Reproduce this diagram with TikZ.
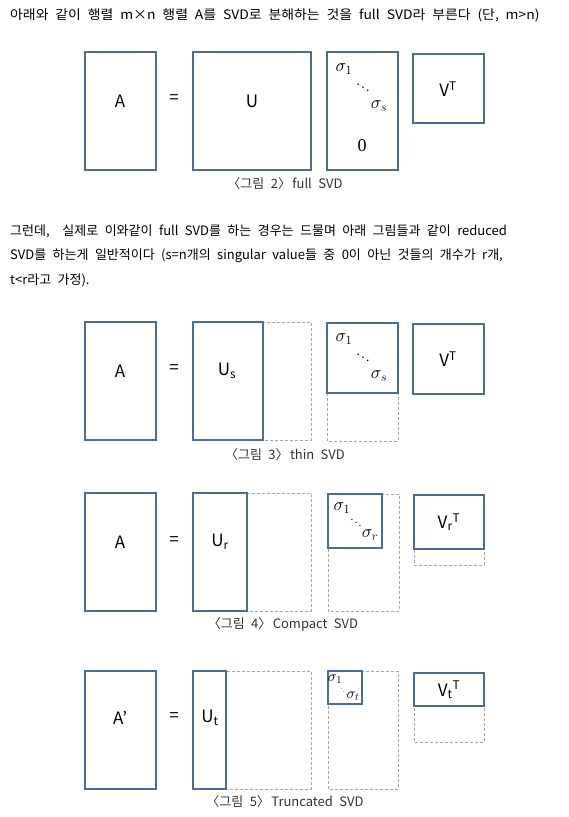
\RequirePackage{fix-cm}
\documentclass[tikz,border=0pt]{standalone}
\usepackage[no-math]{fontspec}
\setmainfont[WordSpace=2.2]{Noto Sans CJK KR}
\newfontfamily\lblfont{Noto Sans CJK KR}
\newfontfamily\zerofont{Liberation Serif}
\usetikzlibrary{calc}
\definecolor{matblue}{HTML}{4A6B9C}
\definecolor{dashgray}{HTML}{A6A6A6}
\tikzset{
    matline/.style={draw=matblue, line width=1.6pt},
    dashline/.style={draw=dashgray, line width=0.9pt, dash pattern=on 3pt off 2pt},
    lbl/.style={font=\lblfont\fontsize{17}{20}\selectfont, inner sep=0pt},
    sig/.style={font=\fontsize{18}{20}\selectfont, inner sep=0pt},
    dotsn/.style={font=\fontsize{12}{14}\selectfont, inner sep=0pt},
    figcap/.style={font=\fontsize{13}{15}\selectfont, text=black!80, inner sep=0pt},
    txt/.style={font=\fontsize{13}{15}\selectfont, anchor=west, inner sep=0pt}
}
\newcommand{\blk}[4]{\draw[matline] ( #1 , #2 ) rectangle ( #3 , #4 );}
\newcommand{\blkD}[4]{\draw[dashline] ( #1 , #2 ) rectangle ( #3 , #4 );}

\begin{document}
\begin{tikzpicture}[x=1pt,y=-1pt]
        \useasboundingbox (0,0) rectangle (568,817);
        % intro
        \node[txt] (intro) at (10,15) {\scalebox{1.07}[1]{아래와 같이 행렬 m×n 행렬 A를 SVD로 분해하는 것을 full SVD라 부른다 (단, m>n)}};
        % full SVD
        \blk{85}{52}{156}{170}
        \blk{193}{52}{311}{170}
        \blk{327}{52}{398}{170}
        \blk{413}{54}{484}{123}
        \node[lbl] (A2) at (120,101) {A};
        \node[lbl] (eq2) at (174,99) {=};
        \node[lbl] (U2) at (252,101) {U};
        \node[sig] (s2a) at (344,69) {$\sigma_1$};
        \node[dotsn] (d2) at (363,85) {$\ddots$};
        \node[sig] (s2b) at (379,106) {$\sigma_s$};
        \node[sig] (z2) at (362,146) {\zerofont 0};
        \node[lbl] (V2) at (448,89) {V\textsuperscript{T}};
        \node[figcap] (c2) at (285,184) {〈그림 2〉\hspace{-5pt} full SVD};
        % text
        \node[txt] (p1) at (10,231) {그런데, \ 실제로 이와같이 full SVD를 하는 경우는 드물며 아래 그림들과 같이 reduced};
        \node[txt] (p2) at (10,256) {SVD를 하는게 일반적이다 (s=n개의 singular value들 중 0이 아닌 것들의 개수가 r개,};
        \node[txt] (p3) at (10,280) {t<r라고 가정).};
        % thin SVD
        \blk{85}{322}{156}{440}
        \blkD{193}{322}{311}{440}
        \blk{193}{322}{263}{440}
        \blkD{327}{323}{398}{441}
        \blk{327}{323}{398}{393}
        \blk{413}{324}{484}{394}
        \node[lbl] (A3) at (120,371) {A};
        \node[lbl] (eq3) at (174,369) {=};
        \node[lbl] (U3) at (227,371) {U\textsubscript{s}};
        \node[sig] (s3a) at (344,339) {$\sigma_1$};
        \node[dotsn] (d3) at (363,355) {$\ddots$};
        \node[sig] (s3b) at (379,376) {$\sigma_s$};
        \node[lbl] (V3) at (448,359) {V\textsuperscript{T}};
        \node[figcap] (c3) at (285,455) {〈그림 3〉\hspace{-5pt} thin SVD};
        % compact SVD
        \blk{85}{493}{156}{611}
        \blkD{193}{493}{311}{611}
        \blk{193}{493}{247}{611}
        \blkD{328}{494}{399}{611}
        \blk{328}{494}{382}{548}
        \blkD{414}{495}{484}{565}
        \blk{414}{495}{484}{549}
        \node[lbl] (A4) at (120,542) {A};
        \node[lbl] (eq4) at (174,541) {=};
        \node[lbl] (U4) at (220,542) {U\textsubscript{r}};
        \node[sig] (s4a) at (342,508) {$\sigma_1$};
        \node[dotsn, font=\fontsize{10}{12}\selectfont] (d4) at (356,520) {$\ddots$};
        \node[sig] (s4b) at (370,535) {$\sigma_r$};
        \node[lbl] (V4) at (449,522) {V\textsubscript{r}\textsuperscript{T}};
        \node[figcap] (c4) at (283,624) {〈그림 4〉\hspace{-5pt} Compact SVD};
        % truncated SVD
        \blk{85}{671}{156}{789}
        \blkD{193}{671}{311}{789}
        \blk{193}{671}{226}{789}
        \blkD{328}{671}{398}{789}
        \blk{328}{671}{362}{704}
        \blkD{414}{673}{484}{742}
        \blk{414}{673}{484}{706}
        \node[lbl] (A5) at (120,718) {A’};
        \node[lbl] (eq5) at (174,717) {=};
        \node[lbl] (U5) at (210,718) {U\textsubscript{t}};
        \node[sig, font=\fontsize{15}{17}\selectfont] (s5a) at (335,679) {$\sigma_1$};
        \node[dotsn, font=\fontsize{6}{7}\selectfont] (d5) at (344,689) {$\ddots$};
        \node[sig, font=\fontsize{15}{17}\selectfont] (s5b) at (353,696) {$\sigma_t$};
        \node[lbl] (V5) at (449,690) {V\textsubscript{t}\textsuperscript{T}};
        \node[figcap] (c5) at (285,802) {〈그림 5〉\hspace{-5pt} Truncated SVD};
\end{tikzpicture}
\end{document}
